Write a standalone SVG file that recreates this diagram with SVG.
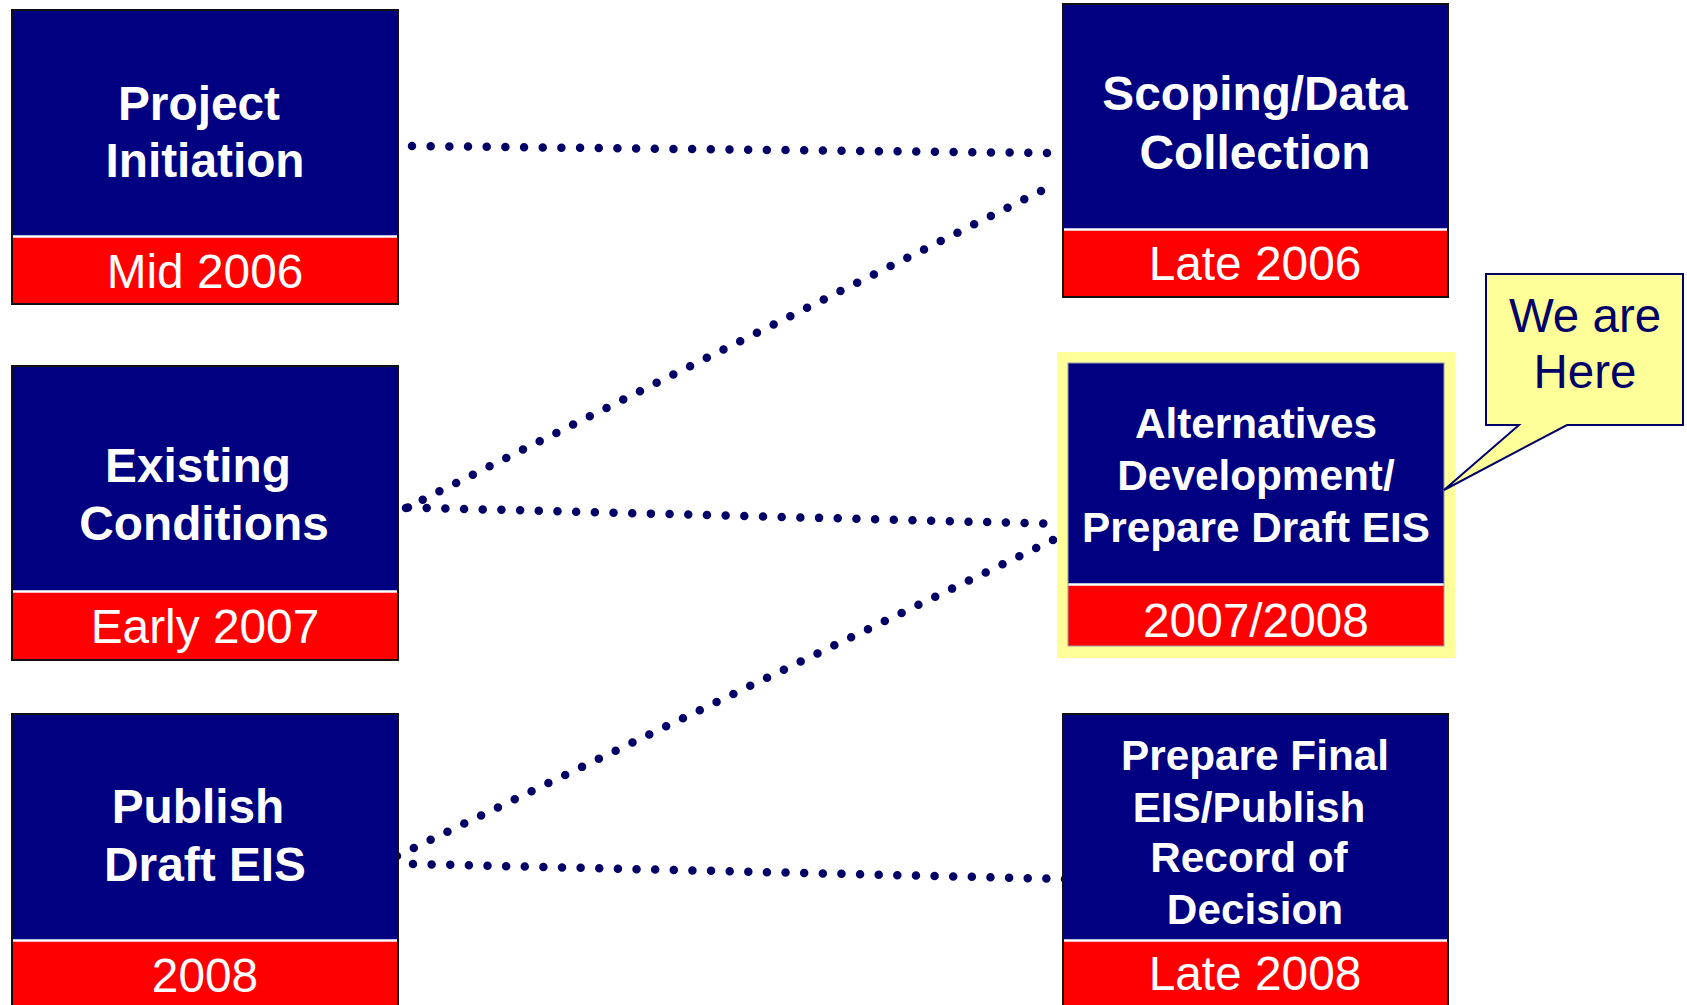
<svg xmlns="http://www.w3.org/2000/svg" width="1687" height="1005" viewBox="0 0 1687 1005">
<style>
.frame{fill:none;stroke:#111;stroke-width:2}
.blue{fill:#000080}
.red{fill:#ff0000}
.div{stroke:#ffffff;stroke-width:2.5}
.t{font-family:"Liberation Sans",Arial,sans-serif;font-weight:bold;fill:#ffffff;text-anchor:middle}
.big{font-size:47.8px}
.mid{font-size:42.3px}
.d{font-family:"Liberation Sans",Arial,sans-serif;font-size:47.8px;fill:#ffffff;text-anchor:middle}
.dots{stroke:#000066;stroke-width:8.5;stroke-linecap:round;fill:none}
.call{font-family:"Liberation Sans",Arial,sans-serif;font-size:47.5px;fill:#000066;text-anchor:middle}
</style>
<rect width="1687" height="1005" fill="#ffffff"/>
<g id="connectors">
<line class="dots" x1="412" y1="146" x2="1047" y2="153" stroke-dasharray="0 18.677"/>
<line class="dots" x1="406" y1="508" x2="1041" y2="191" stroke-dasharray="0 18.677"/>
<line class="dots" x1="408" y1="507.5" x2="1062" y2="524" stroke-dasharray="0 18.69"/>
<line class="dots" x1="397" y1="856" x2="1053" y2="540" stroke-dasharray="0 18.67"/>
<line class="dots" x1="413" y1="864" x2="1065" y2="879" stroke-dasharray="0 18.633"/>
</g>
<g id="project-initiation">
<rect class="blue" x="12" y="10" width="386" height="226"/>
<rect class="red" x="12" y="237" width="386" height="67"/>
<line class="div" x1="12" y1="236.5" x2="398" y2="236.5"/>
<rect class="frame" x="12" y="10" width="386" height="294"/>
<text class="t big" x="199" y="120">Project</text>
<text class="t big" x="205" y="177">Initiation</text>
<text class="d" x="205" y="288">Mid 2006</text>
</g>
<g id="existing-conditions">
<rect class="blue" x="12" y="366" width="386" height="225"/>
<rect class="red" x="12" y="592" width="386" height="68"/>
<line class="div" x1="12" y1="591.5" x2="398" y2="591.5"/>
<rect class="frame" x="12" y="366" width="386" height="294"/>
<text class="t big" x="198" y="482">Existing</text>
<text class="t big" x="204" y="540">Conditions</text>
<text class="d" x="205" y="643">Early 2007</text>
</g>
<g id="publish-draft-eis">
<rect class="blue" x="12" y="714" width="386" height="226"/>
<rect class="red" x="12" y="941" width="386" height="70"/>
<line class="div" x1="12" y1="940.5" x2="398" y2="940.5"/>
<rect class="frame" x="12" y="714" width="386" height="300"/>
<text class="t big" x="198" y="823">Publish</text>
<text class="t big" x="205" y="881">Draft EIS</text>
<text class="d" x="205" y="992">2008</text>
</g>
<g id="scoping-data-collection">
<rect class="blue" x="1063" y="4" width="385" height="225"/>
<rect class="red" x="1063" y="230" width="385" height="67"/>
<line class="div" x1="1063" y1="229.5" x2="1448" y2="229.5"/>
<rect class="frame" x="1063" y="4" width="385" height="293"/>
<text class="t big" x="1255" y="110">Scoping/Data</text>
<text class="t big" x="1255" y="169">Collection</text>
<text class="d" x="1255" y="280">Late 2006</text>
</g>
<g id="alternatives-development">
<rect x="1057" y="352" width="398" height="306" fill="#ffff99"/>
<rect class="blue" x="1068" y="363" width="376" height="221"/>
<rect class="red" x="1068" y="585" width="376" height="61"/>
<line class="div" x1="1068" y1="584.5" x2="1444" y2="584.5"/>
<rect x="1068" y="363" width="376" height="283" fill="none" stroke="#9999aa" stroke-width="1"/>
<text class="t mid" x="1256" y="438">Alternatives</text>
<text class="t mid" x="1256" y="490">Development/</text>
<text class="t mid" x="1256" y="542">Prepare Draft EIS</text>
<text class="d" x="1256" y="637">2007/2008</text>
</g>
<g id="prepare-final-eis">
<rect class="blue" x="1063" y="714" width="385" height="226"/>
<rect class="red" x="1063" y="941" width="385" height="70"/>
<line class="div" x1="1063" y1="940.5" x2="1448" y2="940.5"/>
<rect class="frame" x="1063" y="714" width="385" height="300"/>
<text class="t mid" x="1255" y="770">Prepare Final</text>
<text class="t mid" x="1249" y="822">EIS/Publish</text>
<text class="t mid" x="1249" y="872">Record of</text>
<text class="t mid" x="1255" y="924">Decision</text>
<text class="d" x="1255" y="990">Late 2008</text>
</g>
<g id="we-are-here">
<path d="M1486,274 H1683 V425 H1567 L1444,490 L1519,425 H1486 Z" fill="#ffff99" stroke="#000066" stroke-width="2" stroke-linejoin="miter"/>
<text class="call" x="1585" y="332">We are</text>
<text class="call" x="1585" y="388">Here</text>
</g>
</svg>
